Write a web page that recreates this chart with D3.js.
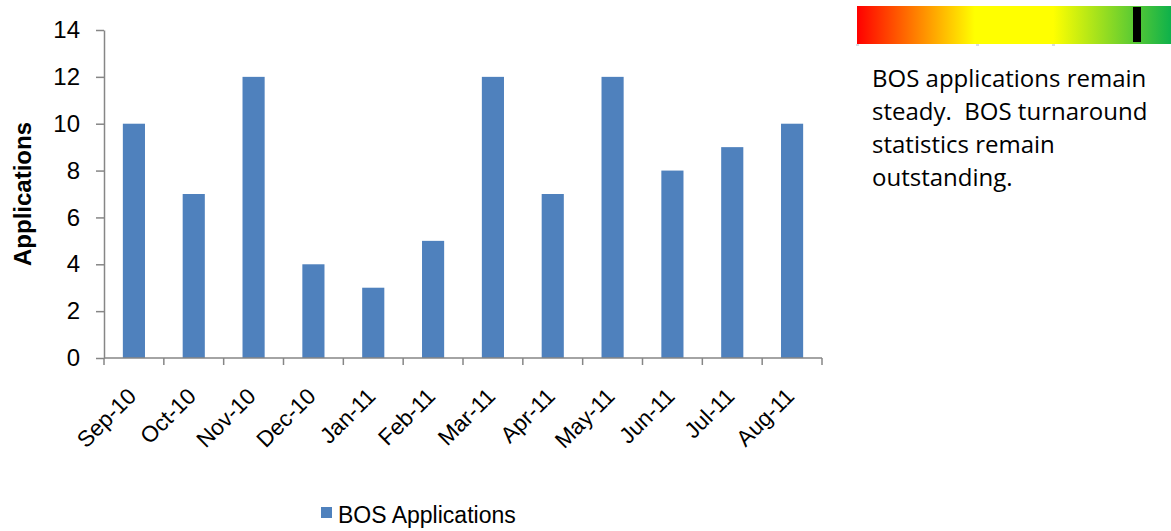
<!DOCTYPE html>
<html>
<head>
<meta charset="utf-8">
<script src="https://cdn.jsdelivr.net/npm/d3@7"></script>
<style>
  body { margin: 0; background: #fff; }
  text { font-family: "Liberation Sans", Arial, sans-serif; }
</style>
</head>
<body>
<div class="graph"></div>
<script>
const months = ["Sep-10", "Oct-10", "Nov-10", "Dec-10", "Jan-11", "Feb-11",
                "Mar-11", "Apr-11", "May-11", "Jun-11", "Jul-11", "Aug-11"];
const applications = [10, 7, 12, 4, 3, 5, 12, 7, 12, 8, 9, 10];
const yTicks = [0, 2, 4, 6, 8, 10, 12, 14];
const seriesName = "BOS Applications";
const noteLines = ["BOS applications remain", "steady.  BOS turnaround", "statistics remain", "outstanding."];

const width = 1171, height = 531;
const plot = { left: 104, right: 822, top: 30, bottom: 358 };
const axisColor = "#868686";
const barColor = "#4F81BD";

const svg = d3.select(".graph")
    .append("svg")
    .attr("width", width)
    .attr("height", height);

const xScale = d3.scaleBand()
    .domain(months)
    .range([plot.left, plot.right])
    .paddingInner(0.63)
    .paddingOuter(0.315);

const yScale = d3.scaleLinear()
    .domain([0, 14])
    .range([plot.bottom, plot.top]);

// bars
svg.selectAll("rect.bar")
    .data(applications)
    .enter()
    .append("rect")
    .attr("class", "bar")
    .attr("x", (d, i) => xScale(months[i]))
    .attr("y", d => yScale(d))
    .attr("width", xScale.bandwidth())
    .attr("height", d => yScale(0) - yScale(d))
    .attr("fill", barColor);

// y axis
const yAxis = svg.append("g")
    .attr("transform", `translate(${plot.left}, 0)`)
    .call(d3.axisLeft(yScale).tickValues(yTicks).tickSize(8).tickPadding(16).tickSizeOuter(0));
yAxis.select(".domain").attr("stroke", axisColor).attr("stroke-width", 1.5);
yAxis.selectAll(".tick line").attr("stroke", axisColor).attr("stroke-width", 1.5);
yAxis.selectAll(".tick text").attr("fill", "#000").style("font-size", "24px");

// x axis: ticks on band boundaries
const bounds = months.map(m => xScale(m) - xScale.step() * xScale.paddingInner() / 2).concat([plot.right]);
const xg = svg.append("g");
xg.append("line")
    .attr("x1", plot.left).attr("x2", plot.right)
    .attr("y1", plot.bottom).attr("y2", plot.bottom)
    .attr("stroke", axisColor).attr("stroke-width", 1.5);
xg.selectAll("line.tk")
    .data(bounds)
    .enter()
    .append("line")
    .attr("class", "tk")
    .attr("x1", d => d).attr("x2", d => d)
    .attr("y1", plot.bottom).attr("y2", plot.bottom + 7)
    .attr("stroke", axisColor).attr("stroke-width", 1.5);
xg.selectAll("text")
    .data(months)
    .enter()
    .append("text")
    .attr("transform", d => `translate(${xScale(d) + xScale.bandwidth() / 2 - 2}, ${plot.bottom + 34}) rotate(-45)`)
    .attr("text-anchor", "end")
    .attr("dy", "0.35em")
    .style("font-size", "22.5px")
    .text(d => d);

// y label
svg.append("text")
    .attr("transform", `translate(31, ${(plot.top + plot.bottom) / 2}) rotate(-90)`)
    .attr("text-anchor", "middle")
    .style("font-size", "24px")
    .style("font-weight", "bold")
    .text("Applications");

// legend
svg.append("rect")
    .attr("x", 321).attr("y", 507).attr("width", 11).attr("height", 11)
    .attr("fill", barColor);
svg.append("text")
    .attr("x", 338).attr("y", 523)
    .style("font-size", "23px")
    .text(seriesName);

// status gradient bar
const defs = svg.append("defs");
const grad = defs.append("linearGradient").attr("id", "status");
[[0, "#FF0000"], [0.375, "#FFFF00"], [0.625, "#FFFF00"], [1, "#0EB14B"]].forEach(s => {
  grad.append("stop").attr("offset", s[0]).attr("stop-color", s[1]);
});
svg.append("rect")
    .attr("x", 857).attr("y", 6).attr("width", 314).attr("height", 38)
    .attr("fill", "url(#status)");
[857, 977, 1053].forEach(x => {
  svg.append("rect").attr("x", x - 1).attr("y", 44).attr("width", 3).attr("height", 2).attr("fill", "#d8dde4");
});
svg.append("rect")
    .attr("x", 1133).attr("y", 7).attr("width", 8).attr("height", 35)
    .attr("fill", "#000");

// note text
svg.append("g")
    .selectAll("text")
    .data(noteLines)
    .enter()
    .append("text")
    .attr("x", 872)
    .attr("y", (d, i) => 87 + i * 33)
    .style("font-family", "'Open Sans', Lato, sans-serif")
    .style("font-size", "24px")
    .style("white-space", "pre")
    .attr("fill", "#000")
    .text(d => d);
</script>
</body>
</html>
